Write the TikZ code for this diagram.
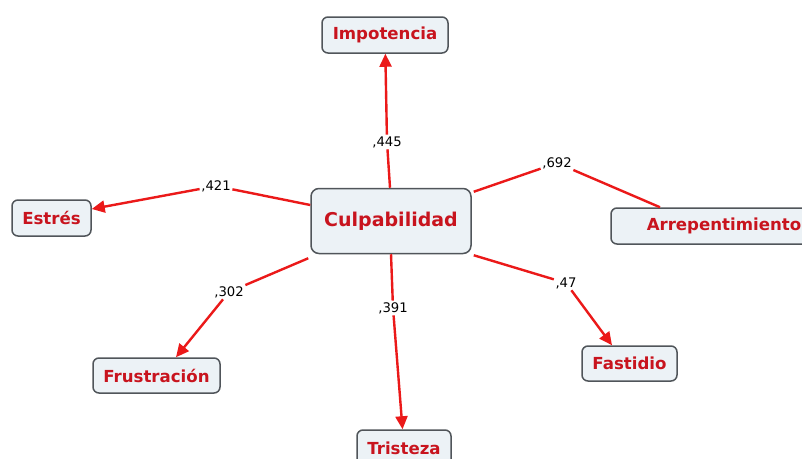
\documentclass[tikz,border=0pt]{standalone}
\usepackage{fontspec}
\setmainfont{DejaVu Sans}
\usetikzlibrary{arrows.meta}
\definecolor{cred}{RGB}{200,20,30}
\definecolor{lnred}{RGB}{235,25,25}
\definecolor{cfill}{RGB}{236,242,246}
\definecolor{cbord}{RGB}{80,85,90}
\tikzset{
  concept/.style={draw=cbord, line width=1.5pt, fill=cfill, rounded corners=6pt,
    text=cred, font=\fontsize{16.6}{18}\selectfont\bfseries, inner sep=0pt, align=center},
  bigconcept/.style={concept, font=\fontsize{19}{21}\selectfont\bfseries, rounded corners=8pt},
  lbl/.style={font=\fontsize{13.2}{15}\selectfont, text=black, inner sep=1.5pt},
  link/.style={draw=lnred, line width=2.4pt},
  arr/.style={link, -{Triangle[length=13pt,width=12pt]}}
}
\begin{document}
\begin{tikzpicture}[x=1pt,y=-1pt]
\useasboundingbox (0,0) rectangle (802,458);
\clip (0,0) rectangle (802,458);
\fill[white] (0,0) rectangle (802,458);
% concepts
\node[bigconcept, minimum width=160pt, minimum height=65pt] (C) at (391,221) {Culpabilidad};
\node[concept, minimum width=126pt, minimum height=36pt] (I) at (385,35) {Impotencia};
\node[concept, minimum width=79pt, minimum height=36pt] (E) at (51.5,218) {Estrés};
\node[concept, minimum width=226pt, minimum height=36pt] (A) at (724,226) {Arrepentimiento};
\node[concept, minimum width=127pt, minimum height=35pt] (F) at (156.5,375.5) {Frustración};
\node[concept, minimum width=94pt, minimum height=36pt] (T) at (404,448) {Tristeza};
\node[concept, minimum width=95pt, minimum height=35pt] (D) at (629.5,363.5) {Fastidio};
% link labels
\node[lbl] (l445) at (387,142) {,445};
\node[lbl] (l421) at (216,186) {,421};
\node[lbl] (l692) at (557,163) {,692};
\node[lbl] (l302) at (229,292) {,302};
\node[lbl] (l391) at (393,308) {,391};
\node[lbl] (l47) at (566,283) {,47};
% links
\draw[link] (C.north -| 390,0) -- (l445);
\draw[arr] (l445) -- (I);
\draw[link] (C.west |- 0,205) -- (l421);
\draw[arr] (l421) -- (E.east |- 0,209);
\draw[link] (C.north east) ++(2,4) -- (l692);
\draw[link] (l692) -- (A.north -| 660,0);
\draw[link] (C.south west) ++(-2,4) -- (l302);
\draw[arr] (l302) -- (F.north -| 176,0);
\draw[link] (C.south -| 391,0) -- (l391);
\draw[arr] (l391) -- (T);
\draw[link] (C.south east) ++(2,1) -- (l47);
\draw[arr] (l47) -- (D.north -| 612,0);
\end{tikzpicture}
\end{document}
